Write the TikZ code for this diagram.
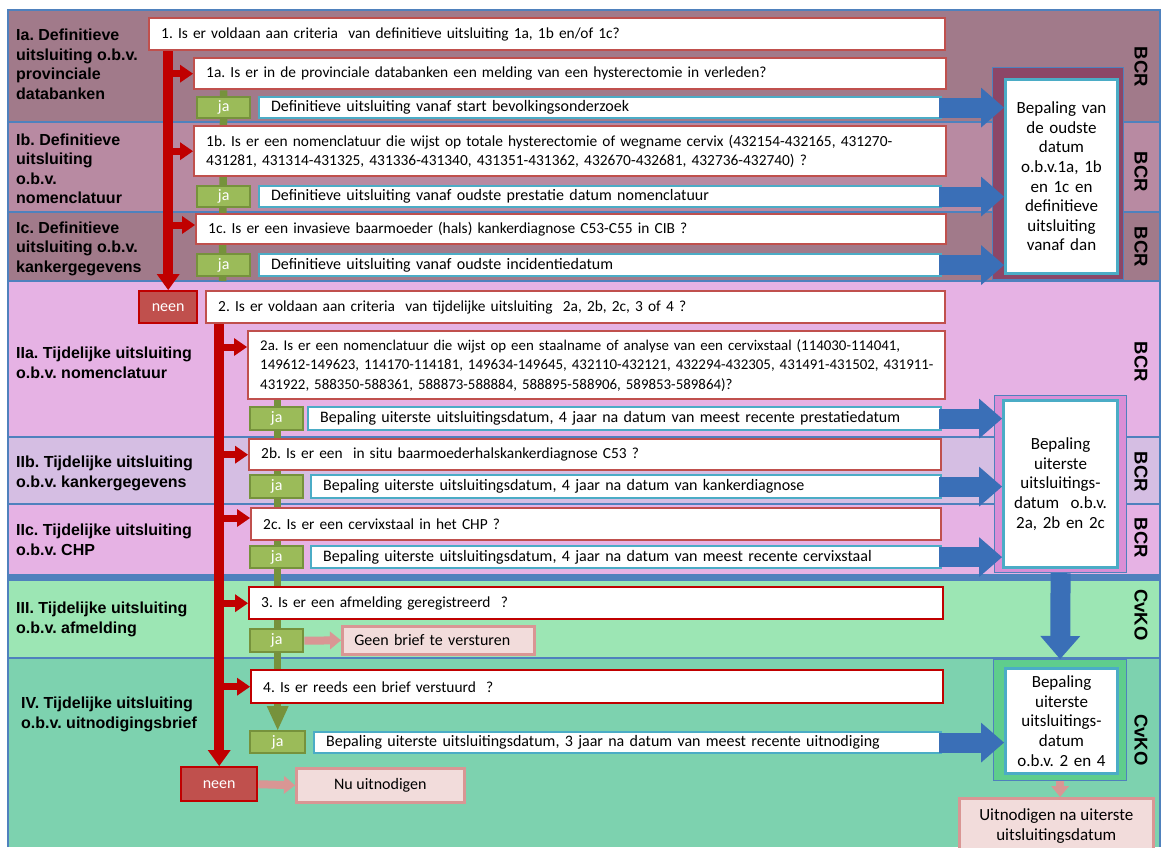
\documentclass[tikz,border=0pt]{standalone}
\usepackage{fontspec}
\setmainfont{Carlito}
\newfontfamily\lblfont{Liberation Sans}
\usetikzlibrary{arrows.meta,calc}
\pgfdeclarelayer{bands}
\pgfdeclarelayer{links}
\pgfsetlayers{bands,links,main}
\frenchspacing

\definecolor{bandA}{RGB}{161,122,138}
\definecolor{bandB}{RGB}{184,138,162}
\definecolor{bandC}{RGB}{230,178,228}
\definecolor{bandD}{RGB}{213,190,227}
\definecolor{bandE}{RGB}{156,230,180}
\definecolor{bandF}{RGB}{125,210,175}
\definecolor{frameA}{RGB}{140,70,103}
\definecolor{frameC}{RGB}{218,142,214}
\definecolor{frameF}{RGB}{95,205,140}
\definecolor{sepblue}{RGB}{79,129,189}
\definecolor{qred}{RGB}{192,80,77}
\definecolor{qdark}{RGB}{192,0,0}
\definecolor{flowred}{RGB}{192,0,0}
\definecolor{jafill}{RGB}{155,187,89}
\definecolor{jaline}{RGB}{118,146,60}
\definecolor{cyanb}{RGB}{75,172,198}
\definecolor{blockblue}{RGB}{58,111,183}
\definecolor{pinkfill}{RGB}{242,220,219}
\definecolor{pinkline}{RGB}{217,150,148}

\newcommand{\qfont}{\fontsize{15.4}{19.5}\selectfont}
\newcommand{\qsmallfont}{\fontsize{14.9}{19.5}\selectfont}
\newcommand{\dfont}{\fontsize{16}{19.5}\selectfont}
\newcommand{\rfont}{\fontsize{17}{19.6}\selectfont}
\newcommand{\lblfnt}{\lblfont\bfseries\fontsize{16}{19.5}\selectfont}
\newcommand{\sidefnt}{\lblfont\bfseries\fontsize{18.5}{20}\selectfont}

\begin{document}
\begin{tikzpicture}[x=1pt, y=-1pt,
  qbase/.style={anchor=north west, fill=white, inner xsep=12pt, inner ysep=0pt,
    align=left, font=\qfont, line width=2.4pt},
  qbox/.style={qbase, draw=qred},
  qboxd/.style={qbase, draw=qdark},
  dbox/.style={qbase, draw=cyanb, line width=2.2pt, font=\dfont},
  jabox/.style={anchor=north west, fill=jafill, draw=jaline, line width=2.4pt,
    text=white, font=\dfont, inner sep=0pt, minimum width=53pt},
  neenbox/.style={anchor=north west, fill=qred, draw=qdark, line width=2.4pt,
    text=white, font=\dfont, inner sep=0pt},
  pinkbox/.style={anchor=north west, fill=pinkfill, draw=pinkline, line width=2.6pt,
    font=\dfont, inner sep=0pt},
  sideframe/.style={anchor=north west, draw=sepblue, line width=1.2pt, inner sep=0pt},
  sidebox/.style={anchor=north west, fill=white, draw=cyanb, line width=3pt,
    inner sep=0pt, align=center, font=\rfont},
  lbl/.style={anchor=base west, align=left, inner sep=0pt, font=\lblfnt},
  org/.style={rotate=-90, inner sep=0pt, font=\sidefnt},
  mainflow/.style={draw=flowred, line width=9.5pt,
    -{Triangle[length=16pt,width=23pt,line width=0pt]}},
  branch/.style={draw=flowred, line width=7pt,
    -{Triangle[length=13pt,width=18pt,line width=0pt]}},
  yesline/.style={draw=jaline, line width=7.5pt},
  yesflow/.style={yesline, -{Triangle[length=24pt,width=22pt,line width=0pt]}},
  bluearrow/.style={draw=blockblue, line width=20pt,
    -{Triangle[length=23pt,width=40pt,line width=0pt]}},
  pinkarrow/.style={draw=pinkline, line width=8pt,
    -{Triangle[length=11pt,width=18pt,line width=0pt]}}
]
\useasboundingbox (0,0) rectangle (1161,847);

% ---- horizontal bands ----
\begin{pgfonlayer}{bands}
\fill[white] (0,0) rectangle (1161,847);
\fill[bandA] (8,10) rectangle (1160,122);
\fill[bandB] (8,122) rectangle (1160,212);
\fill[bandA] (8,212) rectangle (1160,281);
\fill[bandC] (8,281) rectangle (1160,437);
\fill[bandD] (8,437) rectangle (1160,504);
\fill[bandC] (8,504) rectangle (1160,577);
\fill[bandE] (8,577) rectangle (1160,658);
\fill[bandF] (8,658) rectangle (1160,847);
\draw[sepblue, line width=1.5pt] (8,122) -- (1160,122) (8,212) -- (1160,212)
  (8,437) -- (1160,437) (8,504) -- (1160,504) (8,658) -- (1160,658);
\draw[sepblue, line width=2.5pt] (8,281) -- (1160,281);
\draw[sepblue, line width=7pt] (8,577) -- (1160,577);
\draw[sepblue, line width=1.2pt] (8,847) -- (8,10) -- (1160,10) -- (1160,847);
\end{pgfonlayer}

% ---- row labels (placed at the baseline of their last line) ----
\node[lbl] (labIa) at (16,99) {Ia. Definitieve\\uitsluiting o.b.v.\\provinciale\\databanken};
\node[lbl] (labIb) at (16,203.5) {Ib. Definitieve\\uitsluiting\\o.b.v.\\nomenclatuur};
\node[lbl] (labIc) at (16,272) {Ic. Definitieve\\uitsluiting o.b.v.\\kankergegevens};
\node[lbl] (labIIa) at (16,378) {IIa. Tijdelijke uitsluiting\\o.b.v. nomenclatuur};
\node[lbl] (labIIb) at (16,487) {IIb. Tijdelijke uitsluiting\\o.b.v. kankergegevens};
\node[lbl] (labIIc) at (16,555) {IIc. Tijdelijke uitsluiting\\o.b.v. CHP};
\node[lbl] (labIII) at (16,633) {III. Tijdelijke uitsluiting\\o.b.v. afmelding};
\node[lbl] (labIV) at (21,728) {IV. Tijdelijke uitsluiting\\o.b.v. uitnodigingsbrief};

% ---- data sources ----
\node[org] (orgIa) at (1141,67) {BCR};
\node[org] (orgIb) at (1141,172) {BCR};
\node[org] (orgIc) at (1141,247) {BCR};
\node[org] (orgIIa) at (1141,362) {BCR};
\node[org] (orgIIb) at (1141,472) {BCR};
\node[org] (orgIIc) at (1141,538) {BCR};
\node[org] (orgIII) at (1141,615) {CvKO};
\node[org] (orgIV) at (1141,740) {CvKO};

% ---- part 1: definitive exclusion ----
\node[qbox, text width=772pt, minimum height=32pt] (q1) at (148,17)
  {1. Is er voldaan aan criteria\ \ van definitieve uitsluiting 1a, 1b en/of 1c?};
\node[qbox, text width=728pt, minimum height=31pt] (q1a) at (193,57)
  {1a. Is er in de provinciale databanken een melding van een hysterectomie in verleden?};
\node[jabox, minimum height=21pt] (ja1a) at (196,96) {ja};
\node[dbox, text width=658pt, minimum height=21pt] (d1a) at (258,96)
  {Definitieve uitsluiting vanaf start bevolkingsonderzoek};
\node[qbox, text width=728pt, minimum height=50pt] (q1b) at (193,125)
  {\mbox{1b. Is er een nomenclatuur die wijst op totale hysterectomie of wegname cervix (432154-432165, 431270-}\\
   \mbox{431281, 431314-431325, 431336-431340, 431351-431362, 432670-432681, 432736-432740)\ ?}};
\node[jabox, minimum height=21pt] (ja1b) at (196,185) {ja};
\node[dbox, text width=658pt, minimum height=21pt] (d1b) at (258,185)
  {Definitieve uitsluiting vanaf oudste prestatie datum nomenclatuur};
\node[qbox, text width=726pt, minimum height=30pt] (q1c) at (195,213)
  {1c. Is er een invasieve baarmoeder (hals) kankerdiagnose C53-C55 in CIB\ ?};
\node[jabox, minimum height=22pt] (ja1c) at (196,253) {ja};
\node[dbox, text width=658pt, minimum height=22pt] (d1c) at (258,253)
  {Definitieve uitsluiting vanaf oudste incidentiedatum};

\node[sideframe, fill=frameA, minimum width=131pt, minimum height=212pt] (r1o) at (992,67) {};
\node[sidebox, minimum width=112pt, minimum height=194pt, text width=106pt] (r1) at (1004,78)
  {Bepaling van\\de oudste\\datum\\o.b.v.1a, 1b\\en 1c en\\definitieve\\uitsluiting\\vanaf dan};

% ---- part 2: temporary exclusion ----
\node[neenbox, minimum width=58pt, minimum height=32pt] (neen1) at (138,290) {neen};
\node[qbox, text width=715pt, minimum height=32pt] (q2) at (205,290)
  {2. Is er voldaan aan criteria\ \ van tijdelijke uitsluiting\ \ 2a, 2b, 2c, 3 of 4 ?};
\node[qbox, text width=673pt, minimum height=68pt, font=\qsmallfont] (q2a) at (247,330)
  {\mbox{2a. Is er een nomenclatuur die wijst op een staalname of analyse van een cervixstaal (114030-114041,}\\
   \mbox{149612-149623, 114170-114181, 149634-149645, 432110-432121, 432294-432305, 431491-431502, 431911-}\\
   \mbox{431922, 588350-588361, 588873-588884, 588895-588906, 589853-589864)?}};
\node[jabox, minimum height=23pt] (ja2a) at (249,406) {ja};
\node[dbox, text width=609pt, minimum height=23pt] (d2a) at (307,406)
  {Bepaling uiterste uitsluitingsdatum, 4 jaar na datum van meest recente prestatiedatum};
\node[qbox, text width=668pt, minimum height=31pt] (q2b) at (248,438)
  {2b. Is er een\ \ in situ baarmoederhalskankerdiagnose C53 ?};
\node[jabox, minimum height=23pt] (ja2b) at (249,474) {ja};
\node[dbox, text width=606pt, minimum height=23pt] (d2b) at (310,474)
  {Bepaling uiterste uitsluitingsdatum, 4 jaar na datum van kankerdiagnose};
\node[qbox, text width=666pt, minimum height=32pt] (q2c) at (250,507)
  {2c. Is er een cervixstaal in het CHP ?};
\node[jabox, minimum height=22pt] (ja2c) at (249,545) {ja};
\node[dbox, text width=606pt, minimum height=22pt] (d2c) at (310,545)
  {Bepaling uiterste uitsluitingsdatum, 4 jaar na datum van meest recente cervixstaal};

\node[sideframe, fill=frameC, minimum width=132pt, minimum height=177pt] (r2o) at (994,395) {};
\node[sidebox, minimum width=114pt, minimum height=167pt, text width=108pt] (r2) at (1002,399)
  {Bepaling\\uiterste\\uitsluitings-\\datum\ \ o.b.v.\\2a, 2b en 2c};

\node[qboxd, text width=670pt, minimum height=32pt] (q3) at (248,586)
  {3. Is er een afmelding geregistreerd\ \ ?};
\node[jabox, minimum height=23pt] (ja3) at (249,628) {ja};
\node[pinkbox, inner xsep=12pt, text width=168pt, minimum height=28pt, align=left] (geen) at (341,625)
  {Geen brief te versturen};

\node[qboxd, text width=668pt, minimum height=33pt] (q4) at (250,669)
  {4. Is er reeds een brief verstuurd\ \ ?};
\node[jabox, minimum width=55pt, minimum height=22pt] (ja4) at (249,730) {ja};
\node[dbox, text width=603pt, minimum height=21pt] (d4) at (313,731)
  {Bepaling uiterste uitsluitingsdatum, 3 jaar na datum van meest recente uitnodiging};
\node[neenbox, minimum width=76pt, minimum height=34pt] (neen2) at (180,766) {neen};
\node[pinkbox, minimum width=168pt, minimum height=34pt] (nu) at (295,767) {Nu uitnodigen};

\node[sideframe, fill=frameF, minimum width=133pt, minimum height=121pt] (r3o) at (993,659) {};
\node[sidebox, minimum width=112pt, minimum height=105pt, text width=106pt] (r3) at (1004,667)
  {Bepaling\\uiterste\\uitsluitings-\\datum\\o.b.v. 2 en 4};
\node[pinkbox, minimum width=194pt, minimum height=56pt, align=center, font=\rfont] (uit) at (958,797)
  {Uitnodigen na uiterste\\uitsluitingsdatum};

% ---- flow lines behind the boxes ----
\begin{pgfonlayer}{links}
\coordinate (yesIend) at (222.5,281);
\draw[yesline] (q1a.south -| ja1a.north) -- (yesIend);
\draw[yesflow] (q2a.south -| ja4.north) -- (ja4.north);

\draw[mainflow] (q1.south -| neen1.north) -- (neen1.north);
\draw[branch] (neen1.north |- q1a.west) -- (q1a.west);
\draw[branch] (neen1.north |- q1b.west) -- (q1b.west);
\coordinate (in1c) at ($(q1c.north west)+(0,12)$);
\draw[branch] (neen1.north |- in1c) -- (in1c);

\draw[mainflow] (q2.south -| neen2.north) -- (neen2.north);
\coordinate (in2a) at ($(q2a.north west)+(0,17)$);
\draw[branch] (neen2.north |- in2a) -- (in2a);
\draw[branch] (neen2.north |- q2b.west) -- (q2b.west);
\coordinate (in2c) at ($(q2c.north west)+(0,11)$);
\draw[branch] (neen2.north |- in2c) -- (in2c);
\draw[branch] (neen2.north |- q3.west) -- (q3.west);
\draw[branch] (neen2.north |- q4.west) -- (q4.west);
\end{pgfonlayer}

% ---- outcome arrows ----
\draw[bluearrow] ($(d1a.east)+(-3,0)$) -- (d1a.east -| r1.west);
\draw[bluearrow] ($(d1b.east)+(-3,0)$) -- (d1b.east -| r1.west);
\draw[bluearrow] ($(d1c.east)+(-3,0)$) -- (d1c.east -| r1.west);
\draw[bluearrow] ($(d2a.east)+(-3,0)$) -- (d2a.east -| r2.west);
\draw[bluearrow] ($(d2b.east)+(-3,0)$) -- (d2b.east -| r2.west);
\draw[bluearrow] ($(d2c.east)+(-3,0)$) -- (d2c.east -| r2.west);
\draw[bluearrow] ($(d4.east)+(-3,0)$) -- (d4.east -| r3.west);
\draw[bluearrow] (r2o.south) -- (r3o.north);

\draw[pinkarrow] (ja3.east) -- (geen.west);
\draw[pinkarrow] (neen2.east) -- (nu.west);
\draw[pinkarrow] (r3o.south) -- (r3o.south |- uit.north);
\end{tikzpicture}
\end{document}
